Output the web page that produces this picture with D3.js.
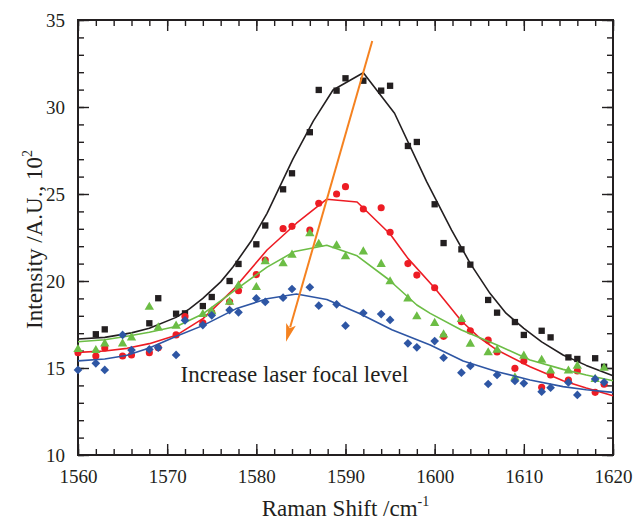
<!DOCTYPE html>
<html>
<head>
<meta charset="utf-8">
<script src="https://cdn.jsdelivr.net/npm/d3@7"></script>
<style>
    html, body { margin: 0; padding: 0; background: #fff; }
    svg { display: block; font-family: "Liberation Serif", "Times New Roman", serif; }
    .axis text { font-family: "Liberation Serif", "Times New Roman", serif; font-size: 19px; fill: #231f20; }
    .axis line { stroke: #231f20; stroke-width: 1.4px; }
    .axis path { display: none; }
    .fit-line { fill: none; stroke-width: 1.6px; stroke-linejoin: round; }
</style>
</head>
<body>
<div id="chart"></div>
<script>
// tick values
const xTickValues = [1560, 1570, 1580, 1590, 1600, 1610, 1620];
const yTickValues = [10, 15, 20, 25, 30, 35];

// measured points (Raman shift, intensity)
const blackPoints = [
    [1562, 16.94], [1563, 17.22], [1568, 17.57], [1569, 19.01], [1571, 18.12], [1572, 18.14],
    [1574, 18.56], [1575, 19.08], [1577, 20.0], [1578, 20.98], [1580, 22.11], [1581, 23.19],
    [1583, 25.27], [1584, 26.19], [1586, 28.55], [1587, 30.98], [1589, 30.94], [1590, 31.65],
    [1592, 31.51], [1594, 30.94], [1595, 31.22], [1597, 27.76], [1598, 27.99], [1600, 24.41],
    [1601, 22.18], [1603, 21.82], [1604, 20.94], [1606, 18.91], [1607, 18.18], [1609, 17.64],
    [1610, 16.9], [1612, 17.14], [1613, 16.76], [1615, 15.61], [1616, 15.52], [1618, 15.56],
    [1619, 15.07]
];
const redPoints = [
    [1560, 15.88], [1562, 15.69], [1563, 16.15], [1565, 15.69], [1566, 15.75], [1568, 15.88],
    [1569, 16.17], [1571, 16.9], [1572, 17.95], [1574, 17.6], [1575, 18.2], [1577, 18.81],
    [1578, 19.44], [1580, 20.37], [1581, 21.21], [1583, 23.01], [1584, 23.14], [1586, 22.93],
    [1587, 24.47], [1589, 25.0], [1590, 25.42], [1592, 24.14], [1594, 24.21], [1595, 22.8],
    [1597, 21.0], [1598, 20.34], [1600, 19.61], [1601, 16.82], [1603, 17.66], [1604, 17.13],
    [1606, 16.6], [1607, 15.92], [1609, 14.98], [1610, 15.4], [1612, 13.89], [1613, 14.6],
    [1615, 14.31], [1616, 14.83], [1618, 13.6], [1619, 14.07]
];
const greenPoints = [
    [1560, 16.13], [1562, 16.07], [1563, 16.45], [1565, 16.45], [1566, 16.8], [1568, 18.56],
    [1569, 17.37], [1571, 17.47], [1574, 18.14], [1575, 18.3], [1577, 18.85], [1578, 19.79],
    [1580, 19.69], [1581, 21.17], [1583, 21.06], [1584, 21.55], [1586, 22.78], [1587, 22.18],
    [1589, 22.09], [1590, 21.46], [1592, 21.74], [1594, 21.02], [1595, 20.02], [1597, 19.04],
    [1598, 18.01], [1600, 17.63], [1601, 16.97], [1603, 17.86], [1604, 16.44], [1606, 15.94],
    [1607, 16.09], [1609, 14.5], [1610, 15.75], [1612, 15.51], [1613, 14.89], [1615, 14.89],
    [1616, 15.17], [1618, 14.41], [1619, 15.05]
];
const bluePoints = [
    [1560, 14.89], [1562, 15.27], [1563, 14.89], [1565, 16.9], [1566, 16.03], [1568, 16.07],
    [1569, 16.17], [1571, 15.75], [1572, 17.74], [1574, 17.47], [1575, 18.03], [1577, 18.33],
    [1578, 18.2], [1580, 19.0], [1581, 18.8], [1583, 19.04], [1584, 19.54], [1586, 19.64],
    [1587, 18.58], [1589, 18.66], [1590, 17.43], [1592, 18.16], [1594, 18.1], [1595, 17.76],
    [1597, 16.42], [1598, 16.19], [1600, 16.55], [1601, 15.59], [1603, 14.73], [1604, 15.12],
    [1606, 14.08], [1607, 14.6], [1609, 14.26], [1610, 14.12], [1612, 13.64], [1613, 13.87],
    [1615, 14.17], [1616, 13.45], [1618, 14.37], [1619, 14.18]
];

// fitted curves
const blackFit = [
    [1560, 16.67], [1563, 16.76], [1566, 17.02], [1568, 17.28], [1571, 17.91], [1572.5, 18.4],
    [1574, 19.0], [1576, 19.95], [1577.4, 20.82], [1579.5, 22.36], [1581.2, 23.89], [1584.1, 27.0],
    [1586.4, 29.2], [1588.6, 30.98], [1592, 31.97], [1595.5, 29.64], [1599.1, 25.71],
    [1601.9, 22.93], [1604, 21.0], [1606.2, 19.29], [1608, 18.15], [1610, 17.28], [1612, 16.5],
    [1614.4, 15.75], [1617, 15.15], [1620, 14.56]
];
const redFit = [
    [1560, 15.9], [1563, 15.98], [1565.5, 16.13], [1568, 16.4], [1571.1, 16.9], [1574.05, 17.85],
    [1577.4, 19.5], [1581.2, 21.78], [1584.5, 23.32], [1587.9, 24.7], [1591.3, 24.54],
    [1595, 22.7], [1597, 21.3], [1600, 19.6], [1603, 17.7], [1605, 16.75], [1607, 16.03],
    [1610.7, 15.07], [1614.4, 14.27], [1617, 13.85], [1620, 13.41]
];
const greenFit = [
    [1560, 16.51], [1563, 16.62], [1565.5, 16.82], [1568, 17.05], [1571.1, 17.4], [1574.05, 18.12],
    [1577.7, 19.5], [1581.2, 20.8], [1584.3, 21.7], [1587.9, 22.05], [1591.3, 21.45],
    [1594.8, 20.1], [1598, 18.62], [1599.5, 18.14], [1603, 17.18], [1607, 16.32],
    [1610.7, 15.46], [1614.4, 14.92], [1617, 14.6], [1620, 14.27]
];
const blueFit = [
    [1560, 15.41], [1563, 15.52], [1565.4, 15.72], [1568, 16.15], [1571.1, 16.84],
    [1574.05, 17.45], [1577.7, 18.4], [1581.2, 18.98], [1584.5, 19.25], [1587.9, 18.94],
    [1591.5, 18.15], [1595.2, 17.2], [1599.5, 16.32], [1603.2, 15.4], [1607, 14.79],
    [1610.7, 14.31], [1614.4, 13.93], [1617, 13.75], [1620, 13.6]
];

// arrow: tail then tip
const arrowPoints = [[1593.0, 33.79], [1583.33, 16.51]];
const annotationText = "Increase laser focal level";

class RamanChart {
    constructor(_config) {
        this.config = {
            parentElement: _config.parentElement,
            containerWidth: _config.containerWidth || 633,
            containerHeight: _config.containerHeight || 521,
            margin: _config.margin || { top: 20, right: 20, bottom: 66, left: 78 },
        };
        this.series = [
            { name: "black", color: "#231f20", points: blackPoints, fit: blackFit, symbol: d3.symbolSquare, size: 40, rotate: 0 },
            { name: "red", color: "#ed1c24", points: redPoints, fit: redFit, symbol: d3.symbolCircle, size: 40, rotate: 0 },
            { name: "green", color: "#6cbd45", points: greenPoints, fit: greenFit, symbol: d3.symbolTriangle, size: 38, rotate: 0 },
            { name: "blue", color: "#2e56a4", points: bluePoints, fit: blueFit, symbol: d3.symbolSquare, size: 38, rotate: 45 },
        ];
        this.initVis();
    }

    initVis() {
        let vis = this;
        const m = vis.config.margin;
        vis.width = vis.config.containerWidth - m.left - m.right;
        vis.height = vis.config.containerHeight - m.top - m.bottom;

        vis.svg = d3.select(vis.config.parentElement)
            .append("svg")
            .attr("width", vis.config.containerWidth)
            .attr("height", vis.config.containerHeight);

        vis.chart = vis.svg.append("g")
            .attr("transform", `translate(${m.left},${m.top})`);

        vis.xScale = d3.scaleLinear().domain([1560, 1620]).range([0, vis.width]);
        vis.yScale = d3.scaleLinear().domain([10, 35]).range([vis.height, 0]);

        vis.renderVis();
    }

    renderVis() {
        let vis = this;
        const xMinor = d3.range(1560, 1621, 2);
        const yMinor = d3.range(10, 36, 1);

        // minor ticks, all four sides, pointing inward
        vis.chart.append("g").attr("class", "axis").attr("transform", `translate(0,${vis.height})`)
            .call(d3.axisBottom(vis.xScale).tickValues(xMinor).tickSize(-6).tickFormat(""));
        vis.chart.append("g").attr("class", "axis")
            .call(d3.axisTop(vis.xScale).tickValues(xMinor).tickSize(-6).tickFormat(""));
        vis.chart.append("g").attr("class", "axis")
            .call(d3.axisLeft(vis.yScale).tickValues(yMinor).tickSize(-6).tickFormat(""));
        vis.chart.append("g").attr("class", "axis").attr("transform", `translate(${vis.width},0)`)
            .call(d3.axisRight(vis.yScale).tickValues(yMinor).tickSize(-6).tickFormat(""));

        // major ticks
        vis.chart.append("g").attr("class", "axis x-axis").attr("transform", `translate(0,${vis.height})`)
            .call(d3.axisBottom(vis.xScale).tickValues(xTickValues).tickSize(-11).tickPadding(15).tickFormat(d3.format("d")));
        vis.chart.append("g").attr("class", "axis")
            .call(d3.axisTop(vis.xScale).tickValues(xTickValues).tickSize(-11).tickFormat(""));
        vis.chart.append("g").attr("class", "axis y-axis")
            .call(d3.axisLeft(vis.yScale).tickValues(yTickValues).tickSize(-11).tickPadding(13).tickFormat(d3.format("d")));
        vis.chart.append("g").attr("class", "axis").attr("transform", `translate(${vis.width},0)`)
            .call(d3.axisRight(vis.yScale).tickValues(yTickValues).tickSize(-11).tickFormat(""));

        // frame
        vis.chart.append("rect")
            .attr("width", vis.width)
            .attr("height", vis.height)
            .attr("fill", "none")
            .attr("stroke", "#231f20")
            .attr("stroke-width", 2);

        const lineGenerator = d3.line()
            .x((d) => vis.xScale(d[0]))
            .y((d) => vis.yScale(d[1]));

        const groups = vis.chart.selectAll(".series")
            .data(vis.series)
            .join("g")
            .attr("class", "series");

        groups.append("path")
            .attr("class", "fit-line")
            .attr("stroke", (d) => d.color)
            .attr("d", (d) => lineGenerator(d.fit));

        groups.each(function (s) {
            const sym = d3.symbol().type(s.symbol).size(s.size);
            d3.select(this).selectAll(".point")
                .data(s.points)
                .join("path")
                .attr("class", "point")
                .attr("d", sym)
                .attr("fill", s.color)
                .attr("transform", (d) => `translate(${vis.xScale(d[0])},${vis.yScale(d[1]) + (s.symbol === d3.symbolTriangle ? 1 : 0)}) rotate(${s.rotate})`);
        });

        // orange arrow
        const tail = [vis.xScale(arrowPoints[0][0]), vis.yScale(arrowPoints[0][1])];
        const tip = [vis.xScale(arrowPoints[1][0]), vis.yScale(arrowPoints[1][1])];
        const len = Math.hypot(tip[0] - tail[0], tip[1] - tail[1]);
        const ux = (tip[0] - tail[0]) / len, uy = (tip[1] - tail[1]) / len;
        const headLen = 18, headHalf = 5;
        const base = [tip[0] - ux * headLen, tip[1] - uy * headLen];
        vis.chart.append("line")
            .attr("x1", tail[0]).attr("y1", tail[1])
            .attr("x2", base[0] + ux * 3).attr("y2", base[1] + uy * 3)
            .attr("stroke", "#f58220")
            .attr("stroke-width", 2);
        vis.chart.append("path")
            .attr("d", `M${tip[0]},${tip[1]}L${base[0] - uy * headHalf},${base[1] + ux * headHalf}L${base[0] + ux * 4},${base[1] + uy * 4}L${base[0] + uy * headHalf},${base[1] - ux * headHalf}Z`)
            .attr("fill", "#f58220");

        vis.chart.append("text")
            .attr("x", vis.xScale(1571.5))
            .attr("y", vis.yScale(14.21))
            .style("font-size", "23px")
            .style("fill", "#231f20")
            .text(annotationText);

        // axis titles
        const xTitle = vis.svg.append("text")
            .attr("x", vis.config.margin.left + vis.width / 2)
            .attr("y", 516)
            .attr("text-anchor", "middle")
            .style("font-size", "23px")
            .style("fill", "#231f20");
        xTitle.append("tspan").text("Raman Shift /cm");
        xTitle.append("tspan").attr("dy", -10).style("font-size", "14px").text("-1");

        const yTitle = vis.svg.append("text")
            .attr("transform", `translate(42,${vis.config.margin.top + vis.height / 2 + 2}) rotate(-90)`)
            .attr("text-anchor", "middle")
            .style("font-size", "23px")
            .style("fill", "#231f20");
        yTitle.append("tspan").text("Intensity /A.U., 10");
        yTitle.append("tspan").attr("dy", -10).style("font-size", "14px").text("2");
    }
}

new RamanChart({ parentElement: "#chart" });
</script>
</body>
</html>
